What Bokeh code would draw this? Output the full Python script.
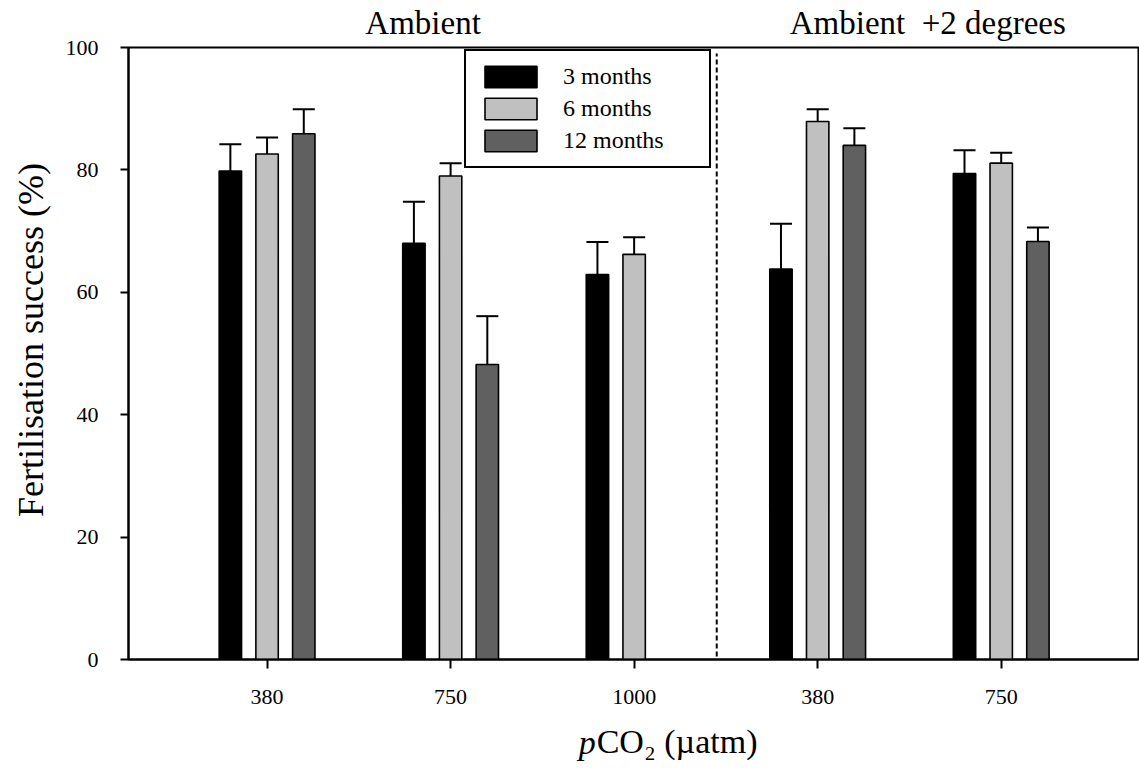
import numpy as np
from bokeh.plotting import figure
from bokeh.models import (Range1d, Legend, LegendItem, FixedTicker, ColumnDataSource,
                          LinearAxis)
from bokeh.embed import file_html
from bokeh.resources import INLINE

# ---------------- data ----------------
tick_labels = ["380", "750", "1000", "380", "750"]
group_titles = ["Ambient", "Ambient\u00a0 +2 degrees"]
series_names = ["3 months", "6 months", "12 months"]
series_colors = ["#000000", "#c0c0c0", "#606060"]
mean_3m = [79.8, 68.0, 62.9, 63.8, 79.4]
mean_6m = [82.6, 79.0, 66.2, 87.9, 81.1]
mean_12m = [85.9, 48.2, None, 84.0, 68.3]
err_3m = [4.4, 6.8, 5.3, 7.4, 3.8]
err_6m = [2.7, 2.1, 2.8, 2.0, 1.7]
err_12m = [4.0, 7.9, None, 2.8, 2.3]
y_ticks = [0, 20, 40, 60, 80, 100]

means = [mean_3m, mean_6m, mean_12m]
errs = [err_3m, err_6m, err_12m]
offsets = [-0.2, 0.0, 0.2]
bar_w = 0.122
cap_half = 0.06
separator_x = 3.45
FONT = "Liberation Serif"

x_start, x_end = 0.245, 5.748
p = figure(width=1139, height=773, output_backend="svg", toolbar_location=None,
           x_range=Range1d(x_start, x_end), y_range=Range1d(0, 100),
           min_border_left=128, min_border_right=1, min_border_top=47, min_border_bottom=114)
p.background_fill_color = "white"
p.border_fill_color = "white"
p.outline_line_color = "black"
p.outline_line_width = 2
p.xgrid.visible = False
p.ygrid.visible = False

renderers = []
for k in range(3):
    xs, ys, es = [], [], []
    for i, (m, e) in enumerate(zip(means[k], errs[k])):
        if m is None:
            continue
        xs.append(i + 1 + offsets[k])
        ys.append(m)
        es.append(e)
    xs = np.array(xs); ys = np.array(ys); es = np.array(es)
    src = ColumnDataSource(dict(x=xs, top=ys, up=ys + es, cl=xs - cap_half, cr=xs + cap_half))
    p.segment(x0="x", y0="top", x1="x", y1="up", source=src, line_color="black", line_width=2)
    p.segment(x0="cl", y0="up", x1="cr", y1="up", source=src, line_color="black", line_width=2)
    r = p.vbar(x="x", top="top", bottom=0, width=bar_w, source=src,
               fill_color=series_colors[k], line_color="black", line_width=1.6)
    renderers.append(r)

# separator dashed line
p.segment(x0=[separator_x], y0=[0.5], x1=[separator_x], y1=[99], line_color="black",
          line_width=2, line_dash="5 3")

# axes
p.yaxis.ticker = FixedTicker(ticks=y_ticks)
p.xaxis.ticker = FixedTicker(ticks=[1, 2, 3, 4, 5])
p.xaxis.major_label_overrides = {i + 1: t for i, t in enumerate(tick_labels)}
for ax in (p.xaxis[0], p.yaxis[0]):
    ax.axis_line_width = 2
    ax.axis_line_color = "black"
    ax.major_tick_line_width = 2
    ax.major_tick_line_color = "black"
    ax.major_tick_in = 0
    ax.minor_tick_line_color = None
    ax.major_label_text_font = FONT
    ax.major_label_text_color = "black"
    ax.major_label_text_font_size = "22px"
p.xaxis.major_tick_out = 9
p.xaxis.major_label_standoff = 21
p.yaxis.major_tick_out = 8
p.yaxis.major_label_standoff = 22
p.yaxis.axis_label = "\u00a0" * 5 + "Fertilisation  success  (%)"
p.yaxis.axis_label_text_font = FONT
p.yaxis.axis_label_text_font_style = "normal"
p.yaxis.axis_label_text_font_size = "36px"
p.yaxis.axis_label_text_color = "black"
p.yaxis.axis_label_standoff = 12


def text_axis(ticks, labels, size, style, standoff, side):
    ax = LinearAxis(ticker=FixedTicker(ticks=ticks),
                    major_label_overrides={t: l for t, l in zip(ticks, labels)})
    ax.axis_line_color = None
    ax.major_tick_line_color = None
    ax.minor_tick_line_color = None
    ax.major_tick_in = 0
    ax.major_tick_out = 0
    ax.major_label_standoff = standoff
    ax.major_label_text_font = FONT
    ax.major_label_text_font_size = size
    ax.major_label_text_font_style = style
    ax.major_label_text_color = "black"
    p.add_layout(ax, side)
    return ax


# group titles above the frame
title_x = [1.85, 4.6]
text_axis(title_x, group_titles, "33px", "normal", 7, "above")

# x axis title: pCO2 (µatm)  (italic p + rest)
text_axis([3.234], ["CO\u2082 (\u00b5atm)"], "34px", "normal", 16, "below")
text_axis([2.745], ["p"], "34px", "italic", -39, "below")

# legend
legend = Legend(items=[LegendItem(label=n, renderers=[r]) for n, r in zip(series_names, renderers)],
                location=(336, 491), orientation="vertical",
                border_line_color="black", border_line_width=2, border_line_alpha=1,
                background_fill_color="white", background_fill_alpha=1,
                padding=12, spacing=5, margin=0,
                glyph_width=65, glyph_height=27, label_standoff=20, label_width=134,
                label_text_font=FONT, label_text_font_size="24px", label_text_color="black")
p.add_layout(legend, "center")

open("out.html", "w").write(file_html(p, INLINE))
